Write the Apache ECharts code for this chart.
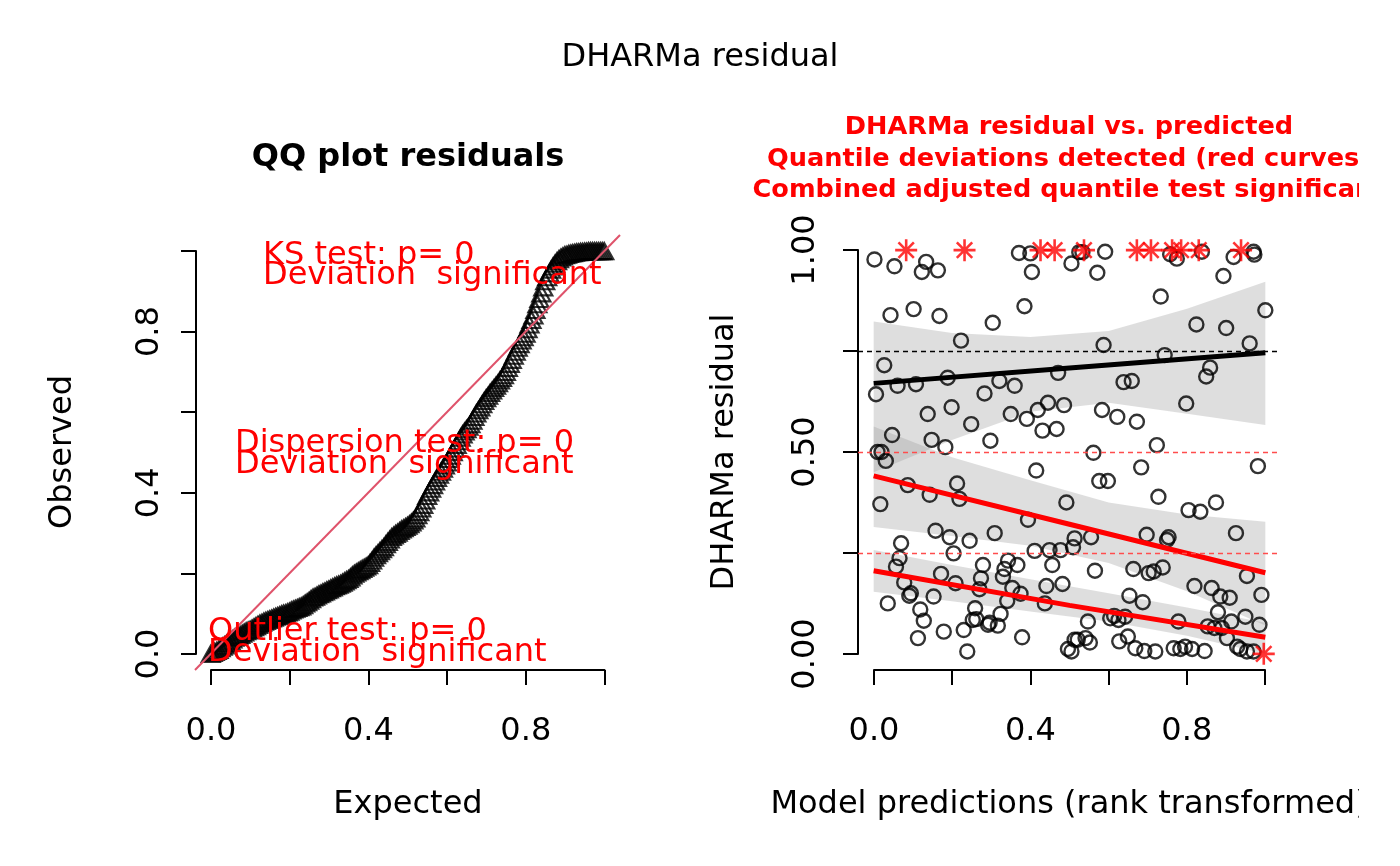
<!DOCTYPE html>
<html>
<head>
<meta charset="utf-8">
<title>DHARMa residual</title>
<script src="https://cdn.jsdelivr.net/npm/echarts@6/dist/echarts.min.js"></script>
<style>
  html, body { margin: 0; padding: 0; background: #fff; }
  #main { width: 1400px; height: 866px; }
</style>
</head>
<body>
<div id="main"></div>
<script>
// QQ plot: expected vs observed quantiles
const qqExpected = [
  0.000, 0.005, 0.010, 0.015, 0.020, 0.025, 0.030, 0.035, 0.040, 0.045,
  0.050, 0.055, 0.060, 0.065, 0.070, 0.075, 0.080, 0.085, 0.090, 0.095,
  0.100, 0.105, 0.110, 0.115, 0.120, 0.125, 0.130, 0.135, 0.140, 0.145,
  0.150, 0.155, 0.160, 0.165, 0.170, 0.175, 0.180, 0.185, 0.190, 0.195,
  0.200, 0.205, 0.210, 0.215, 0.220, 0.225, 0.230, 0.235, 0.240, 0.245,
  0.250, 0.255, 0.260, 0.265, 0.270, 0.275, 0.280, 0.285, 0.290, 0.295,
  0.300, 0.305, 0.310, 0.315, 0.320, 0.325, 0.330, 0.335, 0.340, 0.345,
  0.350, 0.355, 0.360, 0.365, 0.370, 0.375, 0.380, 0.385, 0.390, 0.395,
  0.400, 0.405, 0.410, 0.415, 0.420, 0.425, 0.430, 0.435, 0.440, 0.445,
  0.450, 0.455, 0.460, 0.465, 0.470, 0.475, 0.480, 0.485, 0.490, 0.495,
  0.500, 0.505, 0.510, 0.515, 0.520, 0.525, 0.530, 0.535, 0.540, 0.545,
  0.550, 0.555, 0.560, 0.565, 0.570, 0.575, 0.580, 0.585, 0.590, 0.595,
  0.600, 0.605, 0.610, 0.615, 0.620, 0.625, 0.630, 0.635, 0.640, 0.645,
  0.650, 0.655, 0.660, 0.665, 0.670, 0.675, 0.680, 0.685, 0.690, 0.695,
  0.700, 0.705, 0.710, 0.715, 0.720, 0.725, 0.730, 0.735, 0.740, 0.745,
  0.750, 0.755, 0.760, 0.765, 0.770, 0.775, 0.780, 0.785, 0.790, 0.795,
  0.800, 0.805, 0.810, 0.815, 0.820, 0.825, 0.830, 0.835, 0.840, 0.845,
  0.850, 0.855, 0.860, 0.865, 0.870, 0.875, 0.880, 0.885, 0.890, 0.895,
  0.900, 0.905, 0.910, 0.915, 0.920, 0.925, 0.930, 0.935, 0.940, 0.945,
  0.950, 0.955, 0.960, 0.965, 0.970, 0.975, 0.980, 0.985, 0.990, 0.995,
  1.000
];
const qqObserved = [
  0.000, 0.002, 0.005, 0.007, 0.010, 0.014, 0.018, 0.021, 0.025, 0.028,
  0.032, 0.036, 0.040, 0.042, 0.045, 0.047, 0.050, 0.053, 0.056, 0.058,
  0.060, 0.063, 0.066, 0.069, 0.072, 0.075, 0.077, 0.080, 0.082, 0.084,
  0.086, 0.088, 0.090, 0.092, 0.094, 0.096, 0.098, 0.100, 0.101, 0.103,
  0.105, 0.108, 0.110, 0.112, 0.114, 0.116, 0.118, 0.121, 0.125, 0.128,
  0.132, 0.136, 0.140, 0.142, 0.145, 0.148, 0.150, 0.153, 0.155, 0.158,
  0.160, 0.163, 0.165, 0.168, 0.170, 0.172, 0.174, 0.177, 0.180, 0.183,
  0.186, 0.190, 0.195, 0.199, 0.202, 0.205, 0.208, 0.211, 0.214, 0.217,
  0.220, 0.226, 0.232, 0.239, 0.245, 0.250, 0.255, 0.260, 0.265, 0.272,
  0.278, 0.284, 0.290, 0.294, 0.298, 0.301, 0.305, 0.309, 0.312, 0.315,
  0.318, 0.322, 0.326, 0.331, 0.336, 0.344, 0.352, 0.361, 0.370, 0.381,
  0.392, 0.401, 0.410, 0.419, 0.428, 0.437, 0.445, 0.452, 0.460, 0.468,
  0.475, 0.484, 0.492, 0.501, 0.510, 0.519, 0.528, 0.537, 0.545, 0.552,
  0.558, 0.564, 0.570, 0.579, 0.588, 0.597, 0.605, 0.612, 0.620, 0.628,
  0.635, 0.641, 0.648, 0.654, 0.660, 0.666, 0.672, 0.679, 0.685, 0.692,
  0.700, 0.710, 0.720, 0.730, 0.740, 0.750, 0.760, 0.769, 0.778, 0.786,
  0.795, 0.806, 0.818, 0.829, 0.840, 0.854, 0.868, 0.881, 0.895, 0.910,
  0.925, 0.935, 0.945, 0.954, 0.962, 0.969, 0.975, 0.980, 0.984, 0.987,
  0.990, 0.991, 0.993, 0.994, 0.995, 0.996, 0.997, 0.997, 0.998, 0.998,
  0.999, 0.999, 1.000, 1.000, 1.000, 1.000, 1.000, 1.000, 1.000, 1.000,
  1.000
];

// residuals vs rank-transformed predictions
const predRank = [
  0.002, 0.053, 0.134, 0.123, 0.164, 0.371, 0.400, 0.404, 0.505, 0.525,
  0.533, 0.591, 0.571, 0.757, 0.774, 0.838, 0.919, 0.970, 0.972, 0.893,
  0.043, 0.102, 0.168, 0.304, 0.385, 0.223, 0.733, 1.000, 0.824, 0.900,
  0.960, 0.027, 0.006, 0.061, 0.108, 0.189, 0.283, 0.321, 0.360, 0.471,
  0.587, 0.743, 0.859, 0.849, 0.638, 0.659, 0.138, 0.199, 0.249, 0.350,
  0.391, 0.419, 0.445, 0.486, 0.431, 0.467, 0.583, 0.622, 0.672, 0.798,
  0.047, 0.148, 0.183, 0.298, 0.723, 0.561, 0.010, 0.020, 0.031, 0.415,
  0.087, 0.213, 0.143, 0.219, 0.017, 0.492, 0.394, 0.158, 0.194, 0.245,
  0.309, 0.513, 0.509, 0.070, 0.204, 0.411, 0.449, 0.477, 0.066, 0.057,
  0.279, 0.343, 0.367, 0.334, 0.456, 0.172, 0.274, 0.330, 0.078, 0.209,
  0.270, 0.354, 0.375, 0.441, 0.482, 0.095, 0.091, 0.153, 0.036, 0.437,
  0.341, 0.119, 0.259, 0.324, 0.128, 0.253, 0.262, 0.292, 0.317, 0.296,
  0.179, 0.230, 0.113, 0.379, 0.239, 0.496, 0.505, 0.513, 0.683, 0.981,
  0.576, 0.598, 0.727, 0.804, 0.834, 0.874, 0.925, 0.697, 0.753, 0.749,
  0.555, 0.565, 0.663, 0.702, 0.715, 0.738, 0.953, 0.819, 0.863, 0.885,
  0.909, 0.990, 0.653, 0.687, 0.879, 0.949, 0.913, 0.985, 0.547, 0.604,
  0.614, 0.642, 0.625, 0.778, 0.853, 0.870, 0.889, 0.902, 0.521, 0.541,
  0.552, 0.627, 0.649, 0.668, 0.691, 0.719, 0.766, 0.783, 0.795, 0.813,
  0.845, 0.928, 0.936, 0.953, 0.970
];
const residual = [
  0.977, 0.960, 0.971, 0.946, 0.950, 0.993, 0.992, 0.946, 0.967, 0.995,
  0.995, 0.996, 0.944, 0.990, 0.979, 0.996, 0.983, 0.996, 0.989, 0.936,
  0.839, 0.854, 0.837, 0.820, 0.861, 0.776, 0.885, 0.851, 0.816, 0.807,
  0.769, 0.715, 0.643, 0.664, 0.668, 0.684, 0.645, 0.676, 0.664, 0.696,
  0.765, 0.740, 0.709, 0.687, 0.673, 0.676, 0.594, 0.611, 0.569, 0.594,
  0.582, 0.604, 0.622, 0.616, 0.553, 0.557, 0.604, 0.587, 0.575, 0.620,
  0.542, 0.530, 0.512, 0.528, 0.517, 0.498, 0.500, 0.500, 0.478, 0.454,
  0.418, 0.422, 0.394, 0.384, 0.371, 0.375, 0.332, 0.305, 0.289, 0.280,
  0.299, 0.286, 0.264, 0.274, 0.249, 0.255, 0.257, 0.257, 0.237, 0.216,
  0.220, 0.231, 0.220, 0.210, 0.220, 0.198, 0.187, 0.191, 0.177, 0.175,
  0.160, 0.163, 0.149, 0.168, 0.173, 0.150, 0.144, 0.142, 0.125, 0.125,
  0.131, 0.110, 0.113, 0.099, 0.082, 0.084, 0.086, 0.072, 0.070, 0.077,
  0.055, 0.059, 0.039, 0.041, 0.006, 0.012, 0.006, 0.035, 0.462, 0.465,
  0.428, 0.428, 0.389, 0.356, 0.352, 0.375, 0.299, 0.295, 0.289, 0.282,
  0.289, 0.206, 0.210, 0.200, 0.204, 0.214, 0.193, 0.168, 0.163, 0.142,
  0.139, 0.146, 0.144, 0.128, 0.103, 0.092, 0.080, 0.072, 0.080, 0.088,
  0.094, 0.092, 0.084, 0.080, 0.068, 0.064, 0.064, 0.039, 0.035, 0.039,
  0.028, 0.031, 0.043, 0.014, 0.007, 0.006, 0.014, 0.012, 0.018, 0.012,
  0.007, 0.018, 0.012, 0.006, 0.006
];

// simulation outliers (red stars)
const outlierX = [0.083, 0.232, 0.426, 0.462, 0.537, 0.672, 0.708, 0.762, 0.785, 0.830, 0.938, 0.996];
const outlierY = [1, 1, 1, 1, 1, 1, 1, 1, 1, 1, 1, 0];

// quantile regression curves
const quantX = [0, 0.5, 1];
const q25 = [0.206, 0.120, 0.041];
const q50 = [0.441, 0.321, 0.201];
const q75 = [0.670, 0.708, 0.746];

// confidence bands of the quantile curves
const bandX = [0, 0.2, 0.4, 0.6, 0.8, 1.0];
const band75Upper = [0.823, 0.795, 0.785, 0.800, 0.855, 0.922];
const band75Lower = [0.450, 0.530, 0.600, 0.622, 0.595, 0.567];
const band50Upper = [0.563, 0.487, 0.430, 0.375, 0.345, 0.327];
const band50Lower = [0.314, 0.292, 0.268, 0.225, 0.155, 0.070];
const band25Upper = [0.257, 0.220, 0.185, 0.150, 0.115, 0.077];
const band25Lower = [0.154, 0.130, 0.105, 0.080, 0.045, 0.000];

// reference quantile levels (dashed)
const quantileRefs = [0.25, 0.5, 0.75];
const quantileRefColors = ['#FF4D4D', '#FF4D4D', '#000000'];

// tick labels (R drops the ones that would overlap)
const unitTicks = ['0.0', '', '0.4', '', '0.8', ''];
const residTicks = ['0.00', '', '0.50', '', '1.00'];

(function() {
  const chart = echarts.init(document.getElementById('main'));
  const font = 'DejaVu Sans';
  const pad = 0.04;

  const bands = [
    [band75Upper, band75Lower],
    [band50Upper, band50Lower],
    [band25Upper, band25Lower]
  ];

  const zip = (xs, ys) => xs.map((x, i) => [x, ys[i]]);

  const hiddenAxis = (grid) => ({
    gridIndex: grid, type: 'value', min: -pad, max: 1 + pad,
    show: false, splitLine: { show: false }
  });

  const shownAxis = (grid, interval, labels, offset, margin, rotate) => ({
    gridIndex: grid, type: 'value', min: 0, max: 1, interval: interval,
    offset: offset,
    axisLine: { show: true, onZero: false, lineStyle: { color: '#000', width: 2 } },
    axisTick: { show: true, length: 15, lineStyle: { color: '#000', width: 2 } },
    axisLabel: {
      show: true, color: '#000', fontFamily: font, fontSize: 32,
      margin: margin, rotate: rotate,
      formatter: function(v, i) { return labels[i] || ''; }
    },
    splitLine: { show: false }
  });

  const txt = (x, y, text, opts) => ({
    type: 'text', x: x, y: y, z: 100,
    style: Object.assign({
      text: text, fill: '#000', font: '32px "DejaVu Sans"',
      textAlign: 'center', textVerticalAlign: 'middle'
    }, opts || {})
  });

  const red = '#FF0000';
  const redFont = '32px "DejaVu Sans"';
  const titleFont = 'bold 25.6px "DejaVu Sans"';

  const refSeries = quantileRefs.map((q, i) => ({
    type: 'line', xAxisIndex: 2, yAxisIndex: 2, data: [],
    markLine: {
      silent: true, symbol: ['none', 'none'], label: { show: false },
      lineStyle: { color: quantileRefColors[i], width: 1.3, type: [5, 4], opacity: 1 },
      emphasis: { disabled: true },
      data: [{ yAxis: q }]
    },
    z: 2
  }));

  const option = {
    animation: false,
    grid: [
      { left: 195, top: 235, width: 425, height: 435 },
      { left: 211, top: 251, width: 393.5, height: 403 },
      { left: 858, top: 234, width: 423, height: 436 },
      { left: 874, top: 250, width: 391, height: 404 }
    ],
    xAxis: [
      hiddenAxis(0),
      shownAxis(1, 0.2, unitTicks, 16, 46, 0),
      hiddenAxis(2),
      shownAxis(3, 0.2, unitTicks, 16, 46, 0)
    ],
    yAxis: [
      hiddenAxis(0),
      shownAxis(1, 0.2, unitTicks, 15, 30, 90),
      hiddenAxis(2),
      shownAxis(3, 0.25, residTicks, 16, 36, 90)
    ],
    series: [
      {
        type: 'scatter', xAxisIndex: 0, yAxisIndex: 0,
        data: zip(qqExpected, qqObserved),
        symbol: 'triangle', symbolSize: [18, 16],
        itemStyle: { color: 'rgba(0,0,0,0)', borderColor: '#000', borderWidth: 2.2 },
        markLine: {
          silent: true, symbol: ['none', 'none'], label: { show: false },
          lineStyle: { color: '#DF536B', width: 2, type: 'solid' },
          data: [[{ coord: [-pad, -pad] }, { coord: [1 + pad, 1 + pad] }]]
        },
        z: 3
      },
      {
        type: 'custom', xAxisIndex: 2, yAxisIndex: 2,
        data: [[0], [1], [2]],
        silent: true,
        renderItem: function(params, api) {
          const b = bands[api.value(0)];
          const pts = [];
          bandX.forEach((x, i) => pts.push(api.coord([x, b[0][i]])));
          for (let i = bandX.length - 1; i >= 0; i--) pts.push(api.coord([bandX[i], b[1][i]]));
          return {
            type: 'polygon', shape: { points: pts },
            style: { fill: 'rgba(160,160,160,0.35)', stroke: null }
          };
        },
        z: 1
      }
    ].concat(refSeries).concat([
      {
        type: 'scatter', xAxisIndex: 2, yAxisIndex: 2,
        data: zip(predRank, residual),
        symbol: 'circle', symbolSize: 14,
        itemStyle: { color: 'rgba(0,0,0,0)', borderColor: '#000', borderWidth: 2.4 },
        z: 3
      },
      {
        type: 'line', xAxisIndex: 2, yAxisIndex: 2, data: zip(quantX, q75),
        showSymbol: false, lineStyle: { color: '#000', width: 5 }, z: 4
      },
      {
        type: 'line', xAxisIndex: 2, yAxisIndex: 2, data: zip(quantX, q50),
        showSymbol: false, lineStyle: { color: red, width: 5 }, z: 4
      },
      {
        type: 'line', xAxisIndex: 2, yAxisIndex: 2, data: zip(quantX, q25),
        showSymbol: false, lineStyle: { color: red, width: 5 }, z: 4
      },
      {
        type: 'scatter', xAxisIndex: 2, yAxisIndex: 2,
        data: zip(outlierX, outlierY),
        symbol: 'path://M0,10L20,10M10,0L10,20M3,3L17,17M17,3L3,17',
        symbolSize: 22,
        itemStyle: { color: 'rgba(0,0,0,0)', borderColor: red, borderWidth: 2.6 },
        z: 5
      }
    ]),
    graphic: [
      txt(700, 58, 'DHARMa residual'),
      txt(408, 158, 'QQ plot residuals', { font: 'bold 32px "DejaVu Sans"' }),
      txt(1069, 127, 'DHARMa residual vs. predicted', { font: titleFont, fill: red }),
      txt(1069, 159, 'Quantile deviations detected (red curves)', { font: titleFont, fill: red }),
      txt(1069, 190, 'Combined adjusted quantile test significant', { font: titleFont, fill: red }),
      txt(263, 256, 'KS test: p= 0', { font: redFont, fill: red, textAlign: 'left' }),
      txt(263, 276, 'Deviation  significant', { font: redFont, fill: red, textAlign: 'left' }),
      txt(235, 444, 'Dispersion test: p= 0', { font: redFont, fill: red, textAlign: 'left' }),
      txt(235, 465, 'Deviation  significant', { font: redFont, fill: red, textAlign: 'left' }),
      txt(208, 632, 'Outlier test: p= 0', { font: redFont, fill: red, textAlign: 'left' }),
      txt(208, 653, 'Deviation  significant', { font: redFont, fill: red, textAlign: 'left' }),
      txt(408, 805, 'Expected'),
      txt(1069, 805, 'Model predictions (rank transformed)'),
      Object.assign(txt(63, 452, 'Observed'), { rotation: Math.PI / 2 }),
      Object.assign(txt(725, 452, 'DHARMa residual'), { rotation: Math.PI / 2 }),
      // device clipping on the right edge
      { type: 'rect', z: 200, shape: { x: 1359, y: 0, width: 41, height: 866 }, style: { fill: '#fff' } }
    ]
  };
  chart.setOption(option);

  window.onresize = function() {
    chart.resize();
  };
}());
</script>
</body>
</html>
